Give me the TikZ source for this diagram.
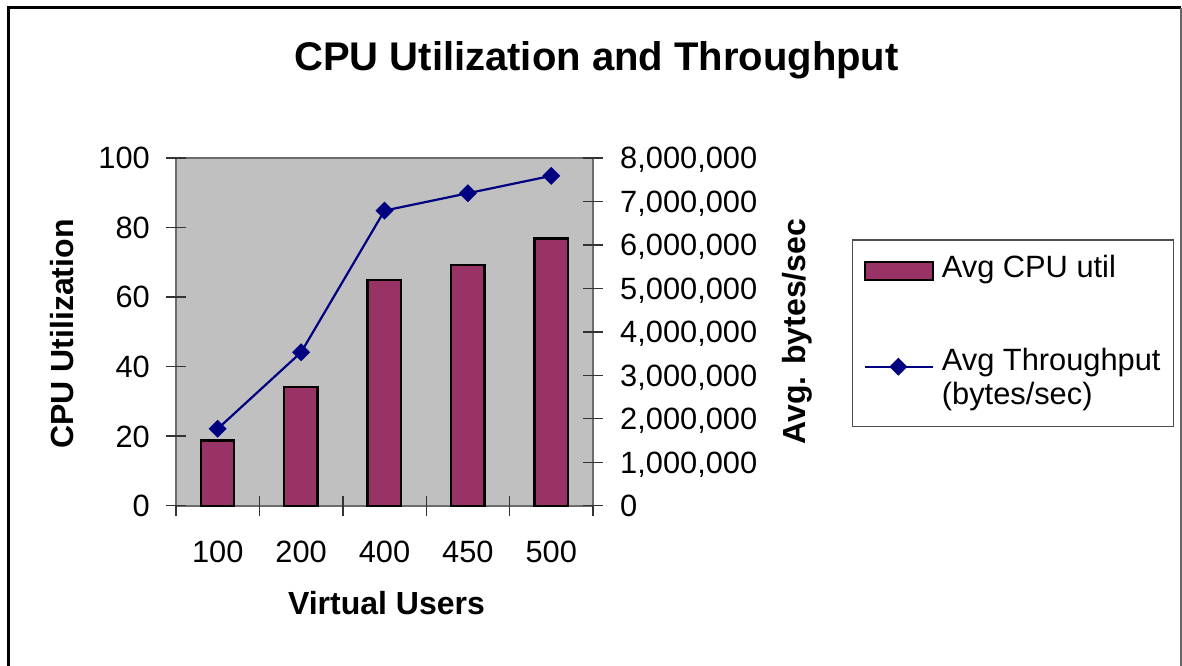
\documentclass[tikz,border=0pt]{standalone}
\usepackage{fontspec}
\setmainfont{Liberation Sans}
\definecolor{barc}{HTML}{993366}
\definecolor{linec}{HTML}{000080}
\definecolor{plotc}{HTML}{C0C0C0}
\begin{document}
\begin{tikzpicture}[x=1pt,y=-1pt,
  lbl/.style={inner sep=0pt, font=\fontsize{30.8}{36}\selectfont},
  ttl/.style={inner sep=0pt, font=\fontsize{32}{38}\selectfont\bfseries},
  tickln/.style={line width=1.4pt, black!80},
  axln/.style={line width=1.6pt, gray!85!black},
  barst/.style={fill=barc, draw=black, line width=2.4pt},
  serst/.style={draw=linec, line width=2.2pt},
  dmd/.pic={\fill[linec] (0,9)--(9,0)--(0,-9)--(-9,0)--cycle;}]
\useasboundingbox (0,0) rectangle (1182,665);
\fill[white] (0,0) rectangle (1182,665);
% outer frame
\draw[line width=2.6pt] (8.5,666) -- (8.5,7.5) -- (1181,7.5);
\draw[gray!80!black, line width=2pt] (1181,7.5) -- (1181,666);
% title
\node[inner sep=0pt, font=\fontsize{40}{48}\selectfont\bfseries, anchor=base] (title) at (596.5,70) {CPU Utilization and Throughput};
% plot area
\fill[plotc] (176,158) rectangle (593,505.7);
\draw[axln] (176,505.7) -- (176,158) -- (593,158) -- (593,505.7) -- cycle;
% left ticks and labels
\foreach \i in {0,...,5}{
  \draw[tickln] (166,{505.7-69.54*\i}) -- (186,{505.7-69.54*\i});
  \pgfmathtruncatemacro{\v}{20*\i}
  \node[lbl, anchor=base east] (yl\i) at (150,{505.7-69.54*\i+10.9}) {\v};
}
% right ticks and labels
\foreach \i in {0,...,8}{
  \draw[tickln] (583,{505.7-43.46*\i}) -- (603,{505.7-43.46*\i});
  \node[lbl, anchor=base west] (yr\i) at (620,{505.7-43.46*\i+10.9}) {\ifnum\i=0 0\else\i,000,000\fi};
}
% x ticks
\foreach \i in {1,...,4}{
  \draw[tickln] ({176+83.4*\i},495.7) -- ({176+83.4*\i},515.7);
}
\draw[tickln] (176,505.7) -- (176,515.7);
\draw[tickln] (593,505.7) -- (593,515.7);
% bars
\foreach \v [count=\i from 0] in {18.7,34.2,64.9,69.2,76.9}{
  \draw[barst] ({176+83.4*\i+24.7},505.7) rectangle ({176+83.4*\i+58.1},{505.7-3.477*\v});
}
% x labels
\foreach \t [count=\i from 0] in {100,200,400,450,500}{
  \node[lbl, anchor=base] (xl\i) at ({217.7+83.4*\i},562) {\t};
}
% throughput series
\foreach \v [count=\i from 0] in {1.77,3.53,6.79,7.19,7.59}{
  \coordinate (t\i) at ({217.7+83.4*\i},{505.7-43.46*\v});
}
\draw[serst] (t0) -- (t1) -- (t2) -- (t3) -- (t4);
\foreach \i in {0,...,4}{ \pic at (t\i) {dmd}; }
% axis titles
\node[ttl, rotate=90, anchor=base] (ytitle) at (73,334) {CPU Utilization};
\node[ttl, rotate=90, anchor=base] (y2title) at (805,331.7) {Avg. bytes/sec};
\node[ttl, anchor=base] (xtitle) at (386.5,614.3) {Virtual Users};
% legend
\draw[line width=1.3pt, gray!60!black] (852.7,240) rectangle (1173.3,426.7);
\draw[barst] (865,261.7) rectangle (932.7,280);
\node[lbl, anchor=base west] (lg1) at (941.7,277.7) {Avg CPU util};
\coordinate (la) at (865,366.7);
\coordinate (lb) at (933,366.7);
\coordinate (lc) at (898.3,366.7);
\draw[serst] (la) -- (lb);
\pic at (lc) {dmd};
\node[lbl, anchor=base west] (lg2) at (941.7,370) {Avg Throughput};
\node[lbl, anchor=base west] (lg3) at (941.7,404.5) {(bytes/sec)};
\end{tikzpicture}
\end{document}
